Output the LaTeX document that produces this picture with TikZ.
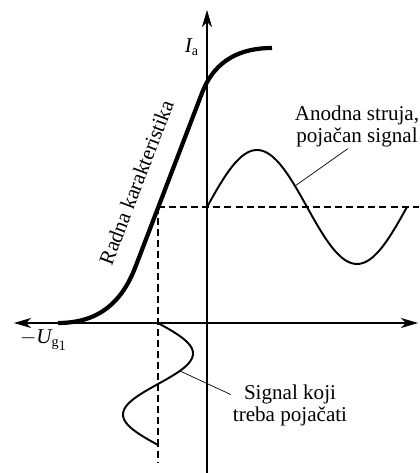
\documentclass[tikz,border=0pt]{standalone}
\usepackage{fontspec}
\setmainfont{Liberation Serif}
\usetikzlibrary{arrows.meta}

\begin{document}
\begin{tikzpicture}[
  x=0.2mm, y=0.2mm,
  >={Stealth[length=3.4mm, width=2mm, inset=1mm]},
  font=\fontsize{12}{12.5}\selectfont,
  axis/.style={line width=0.6pt},
  characteristic/.style={line width=2.4pt},
  signal/.style={line width=1.1pt},
  guide/.style={line width=0.6pt, dash pattern=on 4pt off 2.3pt},
  leader/.style={line width=0.4pt},
  label/.style={align=center, inner sep=1pt}
]
\useasboundingbox (0,0) rectangle (419,473);

% Axes.
\draw[axis, <->] (14,150) -- (418,150);
\draw[axis, ->] (207,0) -- (207,463);
\node (ia) at (192,426) {$\mathit{I}_{\mathrm{a}}$};
\node (ug) at (44,133) {$-\mathit{U}_{\mathrm{g}_{\scriptstyle 1}}$};

% Working characteristic.
\draw[characteristic] (58,150)
  .. controls (100,150) and (122,172) .. (135,205)
  -- node[pos=0.43, sloped, above=8pt] {Radna karakteristika} (202,380)
  .. controls (209,398) and (225,425) .. (272,425);

% Operating point.
\coordinate (q) at (158,266);
\draw[guide] (q) -- (419,266);
\draw[guide] (q) -- (158,10);

% Output and input signals.
\draw[signal] plot[domain=0:200, samples=81, smooth]
  ({207+\x}, {266+57*sin(1.8*\x)});
\draw[signal] plot[domain=0:122, samples=61, smooth]
  ({158+35*sin(2.95*\x)}, {150-\x});

% Labels with leaders.
\node[label] (outlbl) at (357,347) {Anodna struja,\\pojačan signal};
\coordinate (outpt) at (295,287);
\draw[leader] (outlbl.-112) -- (outpt);

\node[label] (inlbl) at (290,68) {Signal koji\\treba pojačati};
\coordinate (inpt) at (180,102);
\draw[leader] (inlbl.170) -- (inpt);

\end{tikzpicture}
\end{document}
